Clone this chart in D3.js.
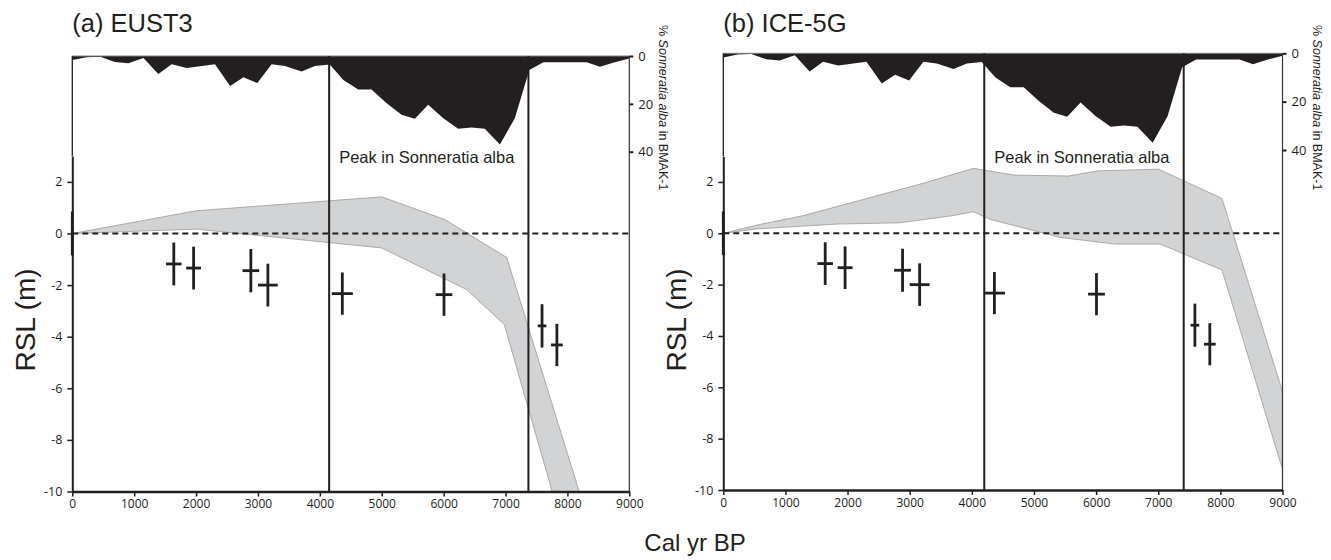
<!DOCTYPE html>
<html>
<head>
<meta charset="utf-8">
<script src="https://cdn.jsdelivr.net/npm/d3@7/dist/d3.min.js"></script>
<style>
  html, body { margin: 0; padding: 0; background: #fff; }
  svg { display: block; }
  .tick text { font-family: "Open Sans", "DejaVu Sans", sans-serif; fill: #231f20; }
</style>
</head>
<body>
<svg id="chart" width="1331" height="560"></svg>
<script>
// ---------------- DATA ----------------
const panelTitles = ["(a) EUST3", "(b) ICE-5G"];
const xTicks = [0, 1000, 2000, 3000, 4000, 5000, 6000, 7000, 8000, 9000];
const yTicks = [-10, -8, -6, -4, -2, 0, 2];
const pollenTicks = [0, 20, 40];

// % Sonneratia alba in BMAK-1 (age cal yr BP, percent)
const pollenAge = [0, 230, 450, 690, 905, 1150, 1390, 1605, 1850, 2305, 2550, 2765, 2990, 3220, 3435, 3705, 3920, 4160, 4380, 4620, 4835, 5080, 5320, 5535, 5750, 5995, 6235, 6450, 6665, 6910, 7150, 7385, 7610, 8310, 8525, 8765, 9000];
const pollenPct = [1.7, 0.5, 0.3, 2.5, 3.0, 0.8, 7.5, 3.5, 5.0, 3.5, 12.5, 8.9, 11.3, 3.5, 4.2, 6.5, 4.2, 3.6, 10.0, 14.0, 14.0, 19.7, 24.6, 26.2, 20.4, 26.0, 30.4, 29.9, 30.4, 37.0, 26.0, 5.8, 2.6, 2.6, 4.5, 2.6, 1.0];

// sea-level index points
const obsAge    = [0, 1640, 1960, 2885, 3160, 4363, 6006, 7590, 7830];
const obsAgeErr = [0, 125, 120, 135, 160, 170, 135, 70, 95];
const obsRsl    = [0, -1.18, -1.34, -1.44, -2.0, -2.33, -2.37, -3.58, -4.32];
const obsRslErr = [0.85, 0.83, 0.83, 0.84, 0.83, 0.82, 0.82, 0.84, 0.82];

// EUST3 model envelope
const eustUpperAge = [0, 2000, 5000, 6020, 7020, 8190];
const eustUpper    = [0, 0.88, 1.42, 0.54, -0.93, -10];
const eustLowerAge = [0, 2000, 5000, 6370, 6980, 7754];
const eustLower    = [0, 0.17, -0.56, -2.17, -3.53, -10];
const eustPeakAges = [4150, 7370];

// ICE-5G model envelope
const iceUpperAge = [0, 540, 1290, 3220, 4026, 4670, 5556, 6013, 7005, 8026, 9000];
const iceUpper    = [0, 0.32, 0.69, 1.95, 2.53, 2.27, 2.23, 2.43, 2.50, 1.36, -6.17];
const iceLowerAge = [0, 540, 1830, 2845, 3700, 4026, 4300, 5420, 6308, 7032, 8026, 9000];
const iceLower    = [0, 0.17, 0.36, 0.41, 0.69, 0.84, 0.54, -0.16, -0.42, -0.42, -1.43, -9.2];
const icePeakAges = [4200, 7410];

const peakLabel = "Peak in Sonneratia alba";

// ---------------- DRAW ----------------
const svg = d3.select("#chart");
const ink = "#231f20";
const fmt = d => String(d);

function drawPanel(p, idx) {
  const g = svg.append("g");
  const x = d3.scaleLinear().domain([0, 9000]).range([p.x0, p.x1]);
  const y = d3.scaleLinear().domain([-10, 3]).range([p.yBottom, p.yBottom - 13 * p.pxPerM]);
  const yp = d3.scaleLinear().domain([0, 40]).range([p.pTop, p.p40]);

  const clipId = "clip" + idx;
  svg.append("clipPath").attr("id", clipId).append("rect")
    .attr("x", p.x0).attr("y", p.pTop).attr("width", p.x1 - p.x0).attr("height", p.yBottom - p.pTop);

  // model envelope
  const up = p.upAge.map((a, i) => [a, p.up[i]]);
  const lo = p.loAge.map((a, i) => [a, p.lo[i]]).reverse();
  const line = d3.line().x(d => x(d[0])).y(d => y(d[1]));
  g.append("path").attr("d", line(up.concat(lo)) + "Z")
    .attr("clip-path", `url(#${clipId})`)
    .attr("fill", "#d1d3d4").attr("stroke", "#9a9a9a").attr("stroke-width", 0.8);

  // zero line
  g.append("line").attr("x1", x(0)).attr("x2", x(9000)).attr("y1", y(0)).attr("y2", y(0))
    .attr("stroke", ink).attr("stroke-width", 2).attr("stroke-dasharray", "6,4");

  // pollen profile
  const pol = pollenAge.map((a, i) => [a, pollenPct[i]]);
  g.append("path").datum(pol)
    .attr("d", d3.area().x(d => x(d[0])).y0(yp(0)).y1(d => yp(d[1])))
    .attr("fill", ink);
  g.append("line").attr("x1", x(0)).attr("x2", x(9000)).attr("y1", yp(0)).attr("y2", yp(0))
    .attr("stroke", "#808080").attr("stroke-width", 1);

  // frame lines
  g.append("line").attr("x1", x(0)).attr("x2", x(0)).attr("y1", yp(0)).attr("y2", y(3))
    .attr("stroke", ink).attr("stroke-width", 1.3);
  g.append("line").attr("x1", x(9000)).attr("x2", x(9000)).attr("y1", yp(0)).attr("y2", y(-10))
    .attr("stroke", "#333").attr("stroke-width", 1.2);

  // peak lines
  g.selectAll(".peak").data(p.peaks).enter().append("line")
    .attr("x1", d => x(d)).attr("x2", d => x(d)).attr("y1", yp(0)).attr("y2", y(-10))
    .attr("stroke", ink).attr("stroke-width", 2);

  // peak label
  g.append("text").attr("x", x(p.peaks[0]) + 10).attr("y", 163)
    .attr("font-family", "'Liberation Sans', Arial, sans-serif").attr("font-size", 16.5)
    .attr("fill", ink).text(peakLabel);

  // index points
  const pts = obsAge.map((a, i) => ({a, ae: obsAgeErr[i], r: obsRsl[i], re: obsRslErr[i]}));
  const cr = g.append("g").attr("stroke", ink).attr("stroke-width", 2.8);
  cr.selectAll(".v").data(pts).enter().append("line")
    .attr("x1", d => x(d.a)).attr("x2", d => x(d.a))
    .attr("y1", d => y(d.r + d.re)).attr("y2", d => y(d.r - d.re));
  cr.selectAll(".h").data(pts.filter(d => d.ae > 0)).enter().append("line")
    .attr("x1", d => x(d.a - d.ae)).attr("x2", d => x(d.a + d.ae))
    .attr("y1", d => y(d.r)).attr("y2", d => y(d.r));

  // axes
  const xa = g.append("g").attr("transform", `translate(0,${p.yBottom})`)
    .call(d3.axisBottom(x).tickValues(xTicks).tickSize(5).tickSizeOuter(0).tickPadding(3).tickFormat(fmt));
  xa.select(".domain").attr("stroke", ink).attr("stroke-width", 2.5);
  xa.selectAll(".tick line").attr("stroke", ink).attr("stroke-width", 1.5);
  xa.selectAll(".tick text").attr("font-size", 12);

  const ya = g.append("g").attr("transform", `translate(${p.x0},0)`)
    .call(d3.axisLeft(y).tickValues(yTicks).tickSize(5).tickSizeOuter(0).tickPadding(5).tickFormat(fmt));
  ya.select(".domain").attr("stroke", ink).attr("stroke-width", 2);
  ya.selectAll(".tick line").attr("stroke", ink).attr("stroke-width", 1.5);
  ya.selectAll(".tick text").attr("font-size", 12.5);

  const pa = g.append("g").attr("transform", `translate(${p.x1},0)`)
    .call(d3.axisRight(yp).tickValues(pollenTicks).tickSize(4).tickSizeOuter(0).tickPadding(5).tickFormat(fmt));
  pa.select(".domain").remove();
  pa.selectAll(".tick line").attr("stroke", ink).attr("stroke-width", 2);
  pa.selectAll(".tick text").attr("font-size", 13);

  // titles
  g.append("text").attr("x", p.x0).attr("y", 32)
    .attr("font-family", "'Liberation Sans', Arial, sans-serif").attr("font-size", 25.5)
    .attr("fill", ink).text(panelTitles[idx]);

  g.append("text").attr("transform", `translate(${p.x0 - 37},320) rotate(-90)`)
    .attr("text-anchor", "middle")
    .attr("font-family", "'Liberation Sans', Arial, sans-serif").attr("font-size", 28)
    .attr("fill", ink).text("RSL (m)");

  const pl = g.append("text").attr("transform", `translate(${p.x1 + 30},25) rotate(90)`)
    .attr("font-family", "'Liberation Sans', Arial, sans-serif").attr("font-size", 12.5)
    .attr("fill", ink);
  pl.append("tspan").text("% ");
  pl.append("tspan").attr("font-style", "italic").text("Sonneratia alba");
  pl.append("tspan").text(" in BMAK-1");
}

drawPanel({x0: 72.3, x1: 629.3, yBottom: 491.5, pxPerM: 25.8, pTop: 56, p40: 151.7,
  upAge: eustUpperAge, up: eustUpper, loAge: eustLowerAge, lo: eustLower, peaks: eustPeakAges}, 0);
drawPanel({x0: 723.3, x1: 1282.5, yBottom: 490, pxPerM: 25.67, pTop: 53.3, p40: 150,
  upAge: iceUpperAge, up: iceUpper, loAge: iceLowerAge, lo: iceLower, peaks: icePeakAges}, 1);

svg.append("text").attr("x", 695).attr("y", 551).attr("text-anchor", "middle")
  .attr("font-family", "'Liberation Sans', Arial, sans-serif").attr("font-size", 24)
  .attr("fill", ink).text("Cal yr BP");
</script>
</body>
</html>
